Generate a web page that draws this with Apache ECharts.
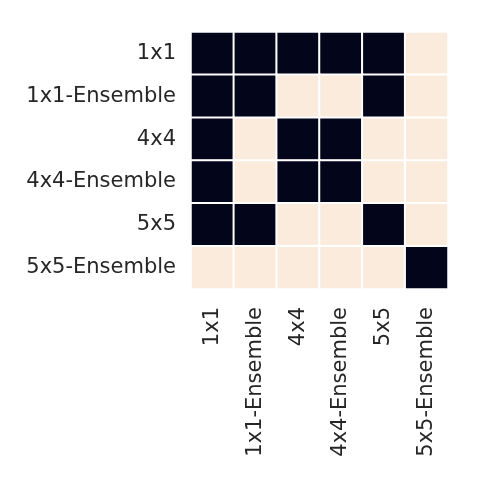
<!DOCTYPE html>
<html>
<head>
<meta charset="utf-8">
<script src="https://cdn.jsdelivr.net/npm/echarts@6/dist/echarts.min.js"></script>
<style>
  html, body { margin: 0; padding: 0; background: #fff; }
  #main { width: 480px; height: 480px; }
</style>
</head>
<body>
<div id="main"></div>
<script>
// 模型名称
const models = ['1x1', '1x1-Ensemble', '4x4', '4x4-Ensemble', '5x5', '5x5-Ensemble'];
// 矩阵，每行对应一个模型 (1 = 深色, 0 = 浅色)
const matrix = [
  [1, 1, 1, 1, 1, 0],
  [1, 1, 0, 0, 1, 0],
  [1, 0, 1, 1, 0, 0],
  [1, 0, 1, 1, 0, 0],
  [1, 1, 0, 0, 1, 0],
  [0, 0, 0, 0, 0, 1]
];

const cells = [];
matrix.forEach(function (row, i) {
  row.forEach(function (v, j) {
    cells.push([j, i, v]);
  });
});

const chart = echarts.init(document.getElementById('main'));
chart.setOption({
  animation: false,
  grid: { left: 191, top: 32, width: 257, height: 257 },
  xAxis: {
    type: 'category',
    data: models,
    axisLine: { show: false },
    axisTick: { show: false },
    splitLine: { show: false },
    axisLabel: {
      rotate: 90,
      margin: 18,
      color: '#262626',
      fontSize: 21,
      fontFamily: 'DejaVu Sans'
    }
  },
  yAxis: {
    type: 'category',
    data: models,
    inverse: true,
    axisLine: { show: false },
    axisTick: { show: false },
    splitLine: { show: false },
    axisLabel: {
      margin: 15,
      color: '#262626',
      fontSize: 21,
      fontFamily: 'DejaVu Sans'
    }
  },
  visualMap: {
    show: false,
    type: 'piecewise',
    dimension: 2,
    pieces: [
      { value: 0, color: '#faebdd' },
      { value: 1, color: '#03051a' }
    ]
  },
  series: [{
    type: 'heatmap',
    data: cells,
    itemStyle: { borderColor: '#ffffff', borderWidth: 2 }
  }]
});
</script>
</body>
</html>
